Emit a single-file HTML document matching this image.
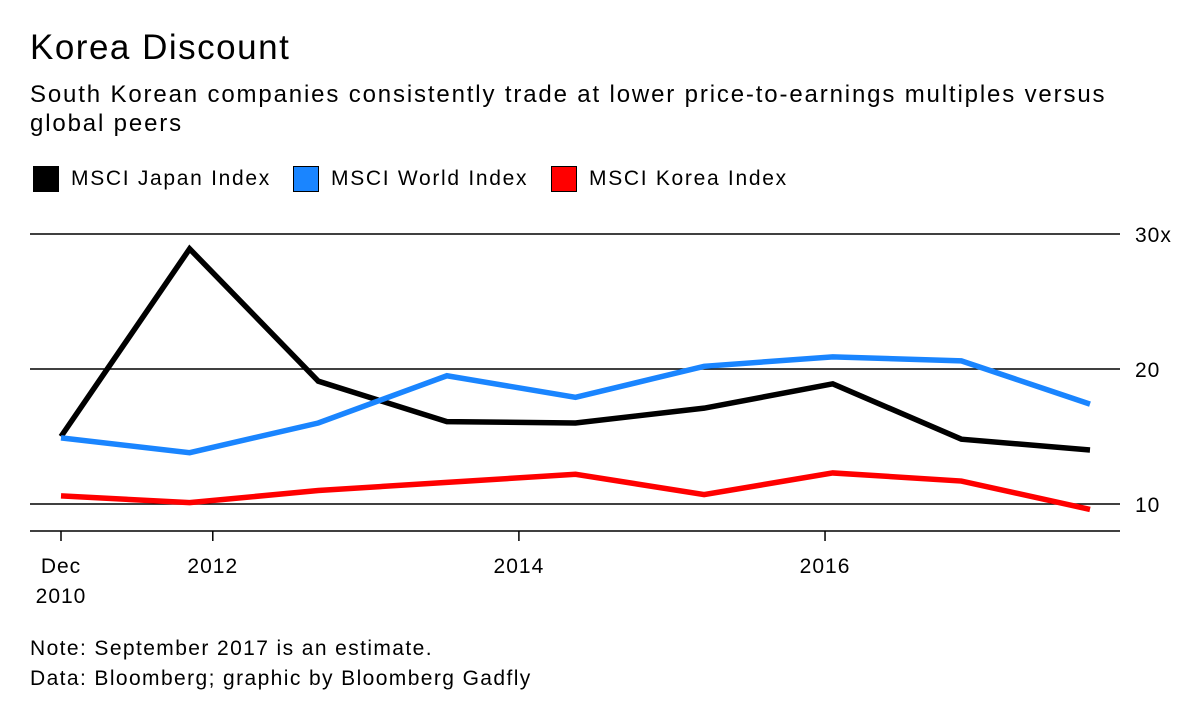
<!DOCTYPE html>
<html><head><meta charset="utf-8"><style>
body{margin:0;width:1200px;height:713px;background:#fff;font-family:"Liberation Sans",sans-serif;color:#000;overflow:hidden;position:relative}
.t{position:absolute;left:30px;white-space:nowrap}
.leg{position:absolute;top:166px;display:flex;align-items:center;font-size:21px;letter-spacing:1.7px}
.sw{width:26px;height:26px;margin-right:12px;border:1px solid #000;box-sizing:border-box}
</style></head><body>
<div class="t" style="top:28px;font-size:35px;letter-spacing:1.5px">Korea Discount</div>
<div class="t" style="top:80px;font-size:24px;line-height:29px;letter-spacing:1.85px">South Korean companies consistently trade at lower price-to-earnings multiples versus<br>global peers</div>
<div class="leg" style="left:33px"><div class="sw" style="background:#000"></div>MSCI Japan Index</div>
<div class="leg" style="left:293px"><div class="sw" style="background:#1a85ff"></div>MSCI World Index</div>
<div class="leg" style="left:551px"><div class="sw" style="background:#ff0000"></div>MSCI Korea Index</div>
<svg id="c" width="1200" height="713" style="position:absolute;left:0;top:0"></svg>
<div class="t" style="top:637px;font-size:21px;letter-spacing:1.4px">Note: September 2017 is an estimate.</div>
<div class="t" style="top:667px;font-size:21px;letter-spacing:1.4px">Data: Bloomberg; graphic by Bloomberg Gadfly</div>
<script>
const dates=["Dec 2010","Oct 2011","Aug 2012","Jun 2013","Apr 2014","Feb 2015","Dec 2015","Oct 2016","Sep 2017"];
const japan=[15.0,28.9,19.1,16.1,16.0,17.1,18.9,14.8,14.0];
const world=[14.9,13.8,16.0,19.5,17.9,20.2,20.9,20.6,17.4];
const korea=[10.6,10.1,11.0,11.6,12.2,10.7,12.3,11.7,9.6];
const yTicks=[10,20,30];
const yTickLabels=["10","20","30x"];
const xTickPos=[0,1.18,3.56,5.94];
const xTickLabels=[["Dec","2010"],["2012"],["2014"],["2016"]];
const NS="http://www.w3.org/2000/svg";
const svg=document.getElementById('c');
const xs=i=>61+i*(1090-61)/(dates.length-1);
const ys=v=>504-(v-10)*13.5;
function mk(tag,a){const e=document.createElementNS(NS,tag);for(const k in a)e.setAttribute(k,a[k]);svg.appendChild(e);return e;}
yTicks.forEach((v,i)=>{
  const l=mk('line',{x1:30,x2:1120,y1:ys(v),y2:ys(v),stroke:'#000','stroke-width':1.5});
  
  
  const t=mk('text',{x:1135,y:ys(v)+8,'font-size':21,'letter-spacing':1,'font-family':'Liberation Sans, sans-serif'});
  t.textContent=yTickLabels[i];
  
  
});
const ax=mk('line',{x1:30,x2:1120,y1:531,y2:531,stroke:'#000','stroke-width':1.5});


xTickPos.forEach((p,i)=>{
  const x=xs(p);
  const tk=mk('line',{x1:x,x2:x,y1:531,y2:541,stroke:'#000','stroke-width':1.5});
  
  
  xTickLabels[i].forEach((s,j)=>{
    const t=mk('text',{x:x,y:573+j*30,'font-size':21,'letter-spacing':1,'text-anchor':'middle','font-family':'Liberation Sans, sans-serif'});
    t.textContent=s;
    
    
  });
});
[[japan,'#000','japan-line'],[world,'#1a85ff','world-line'],[korea,'#ff0000','korea-line']].forEach(([d,c,n])=>{
  const p=mk('polyline',{points:d.map((v,i)=>xs(i)+','+ys(v)).join(' '),fill:'none',stroke:c,'stroke-width':5.5,'stroke-linejoin':'miter'});
  
  
});
</script>
</body></html>
